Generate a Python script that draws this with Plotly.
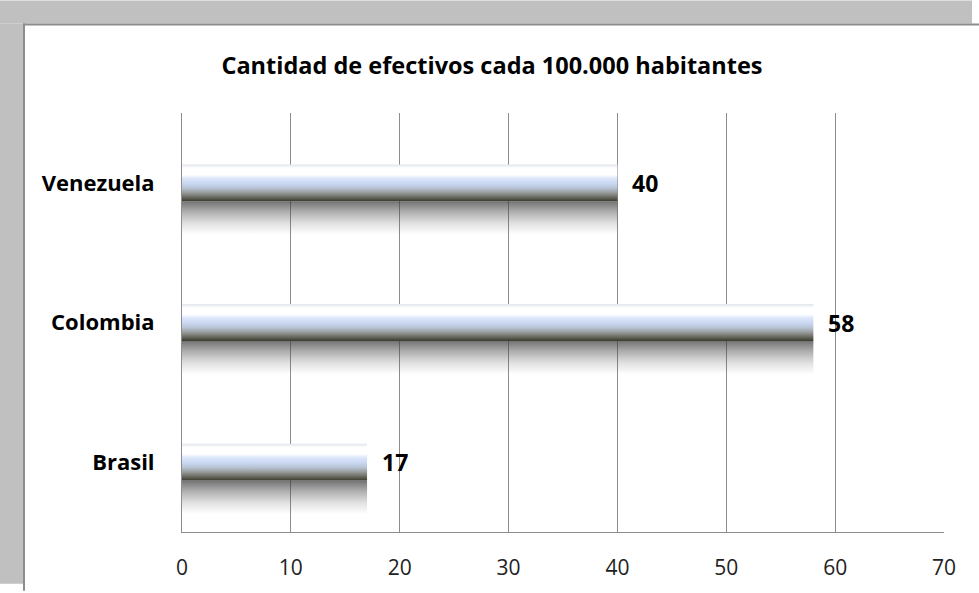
import plotly.graph_objects as go

# datos
paises = ["Brasil", "Colombia", "Venezuela"]
efectivos = [17, 58, 40]
x_ticks = [0, 10, 20, 30, 40, 50, 60, 70]

W, H = 979, 593
L, R, T, B = 182, 35, 113, 59

bar_w = 0.264      # grosor de la barra (unidades de categoría)
shadow_h = 0.24    # alto de la sombra

# degradado vertical de la barra (0 = abajo)
bar_scale = [[0, "#3a3a2e"], [0.05, "#505044"], [0.14, "#75776e"], [0.25, "#9ca2a2"],
             [0.36, "#b8c3d5"], [0.48, "#c9d7f1"], [0.62, "#dce6fa"], [0.72, "#ffffff"],
             [0.9, "#ffffff"], [1.0, "#e0e4ec"]]
shadow_scale = [[0, "rgba(90,90,90,0)"], [0.35, "rgba(80,80,80,0.18)"],
                [0.7, "rgba(70,70,70,0.45)"], [1.0, "rgba(60,60,60,0.72)"]]


def px_x(p):
    return (p - L) / (W - L - R)


def px_y(p):
    return (H - B - p) / (H - T - B)


fig = go.Figure()

for i, (p, v) in enumerate(zip(paises, efectivos)):
    lo, hi = i - bar_w / 2, i + bar_w / 2
    # sombra difusa
    fig.add_trace(go.Scatter(
        x=[0, v, v, 0, 0], y=[lo - shadow_h, lo - shadow_h, lo, lo, lo - shadow_h],
        mode="lines", line=dict(width=0), fill="toself",
        fillgradient=dict(type="vertical", colorscale=shadow_scale),
        hoverinfo="skip", showlegend=False
    ))
    # barra con degradado
    fig.add_trace(go.Scatter(
        x=[0, v, v, 0, 0], y=[lo, lo, hi, hi, lo],
        mode="lines", line=dict(width=0), fill="toself",
        fillgradient=dict(type="vertical", colorscale=bar_scale),
        hoverinfo="skip", showlegend=False
    ))
    fig.add_annotation(x=v, y=i, text=f"<b>{v}</b>", showarrow=False,
                       xanchor="left", xshift=13,
                       font=dict(family="Open Sans", size=23, color="black"))

# marco gris alrededor
frame = "#c0c0c0"
fig.add_shape(type="rect", xref="paper", yref="paper", layer="below",
              x0=px_x(0), x1=px_x(972), y0=px_y(0), y1=px_y(23),
              fillcolor=frame, line=dict(width=0))
fig.add_shape(type="rect", xref="paper", yref="paper", layer="below",
              x0=px_x(0), x1=px_x(23), y0=px_y(23), y1=px_y(586),
              fillcolor=frame, line=dict(width=0))
fig.add_shape(type="line", xref="paper", yref="paper",
              x0=px_x(23), x1=px_x(979), y0=px_y(24), y1=px_y(24),
              line=dict(color="#8c8c8c", width=2))
fig.add_shape(type="line", xref="paper", yref="paper",
              x0=px_x(24), x1=px_x(24), y0=px_y(23), y1=px_y(593),
              line=dict(color="#8c8c8c", width=2))

fig.update_layout(
    width=W, height=H,
    margin=dict(l=L, r=R, t=T, b=B),
    paper_bgcolor="white", plot_bgcolor="white",
    title=dict(text="<b>Cantidad de efectivos cada 100.000 habitantes</b>",
               x=(222 + 762) / 2 / W, xanchor="center",
               y=1 - 66 / H, yanchor="middle", yref="container",
               font=dict(family="Open Sans", size=23.5, color="black")),
    xaxis=dict(range=[0, 70], tickvals=x_ticks, showgrid=True,
               gridcolor="#8c8c8c", gridwidth=1,
               showline=True, linecolor="#8c8c8c", linewidth=1,
               zeroline=False, ticks="", ticklabelstandoff=17,
               tickfont=dict(family="Open Sans", size=21, color="#222")),
    yaxis=dict(range=[-0.5, 2.5], tickvals=list(range(len(paises))),
               ticktext=[f"<b>{p}</b>" for p in paises], showgrid=False,
               showline=True, linecolor="#8c8c8c", linewidth=1,
               zeroline=False, ticks="", ticklabelstandoff=22,
               tickfont=dict(family="Open Sans", size=22, color="black")),
    font=dict(family="Open Sans"),
)

# quitar el margen del body para que el gráfico ocupe la ventana completa
fig.write_html("out.html", config={"displayModeBar": False},
               post_script="document.body.style.margin='0';")
